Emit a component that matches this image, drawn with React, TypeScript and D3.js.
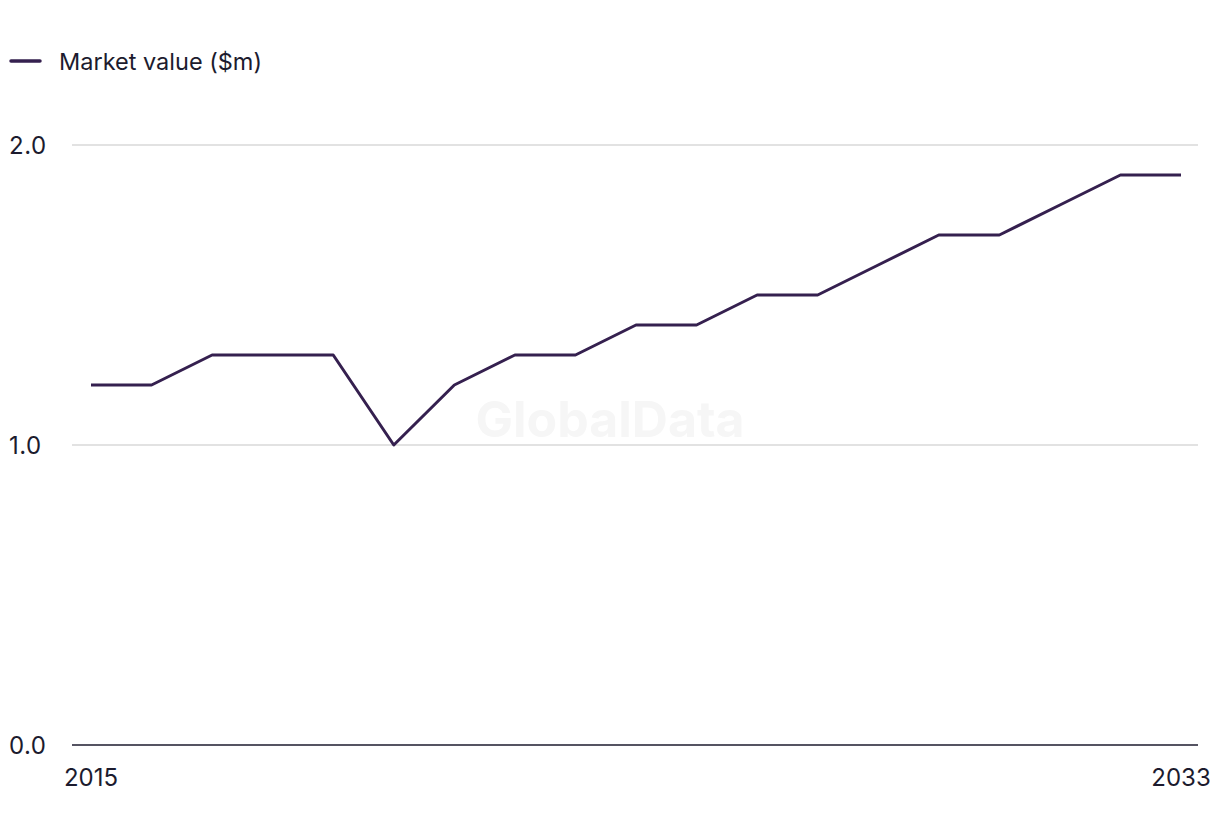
import React from "react";
import * as d3 from "d3";

const years: number[] = [2015, 2016, 2017, 2018, 2019, 2020, 2021, 2022, 2023, 2024, 2025, 2026, 2027, 2028, 2029, 2030, 2031, 2032, 2033];
const marketValue: number[] = [1.2, 1.2, 1.3, 1.3, 1.3, 1.0, 1.2, 1.3, 1.3, 1.4, 1.4, 1.5, 1.5, 1.6, 1.7, 1.7, 1.8, 1.9, 1.9];
const yTicks: number[] = [0, 1, 2];
const xTickLabels: number[] = [2015, 2033];
const seriesName = "Market value ($m)";

const W = 1220;
const H = 836;
const FONT = "Inter, 'Noto Sans', sans-serif";
const LINE = "#35204f";
const TEXT = "#1c1b2e";

export default function App() {
  const x = d3.scaleLinear().domain([2015, 2033]).range([91, 1181]);
  const y = d3.scaleLinear().domain([0, 2]).range([745, 145]);
  const line = d3
    .line<number>()
    .x((_, i) => x(years[i]))
    .y((d) => y(d));

  return (
    <svg
      width={W}
      height={H}
      style={{ position: "absolute", left: 0, top: 0, background: "#fff" }}
      fontFamily={FONT}
    >
      <text x={610} y={437} textAnchor="middle" fontSize={50} fontWeight={700} fill="#f6f6f6">
        GlobalData
      </text>
      {yTicks.map((t) => (
        <g key={t}>
          {t !== 0 && (
            <line x1={72} x2={1198} y1={y(t)} y2={y(t)} stroke="#d9d9d9" strokeWidth={1.5} />
          )}
          <text x={9} y={y(t) + 8.5} fontSize={24} fill={TEXT} letterSpacing={0.5}>
            {d3.format(".1f")(t)}
          </text>
        </g>
      ))}
      <line x1={72} x2={1198} y1={y(0)} y2={y(0)} stroke="#1c1b2e" strokeWidth={1.5} />
      {xTickLabels.map((yr) => (
        <text key={yr} x={x(yr)} y={786} textAnchor="middle" fontSize={24} fill={TEXT}>
          {yr}
        </text>
      ))}
      <path d={line(marketValue) || ""} fill="none" stroke={LINE} strokeWidth={3} strokeLinejoin="round" />
      <line x1={11} x2={40} y1={61} y2={61} stroke={LINE} strokeWidth={3.5} strokeLinecap="round" />
      <text x={59} y={70} fontSize={23.5} fill={TEXT}>
        {seriesName}
      </text>
    </svg>
  );
}
